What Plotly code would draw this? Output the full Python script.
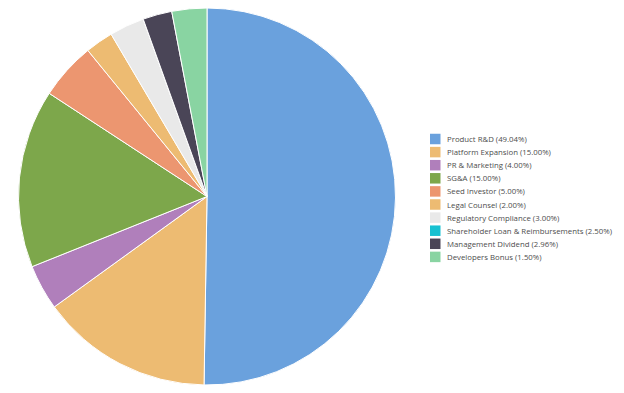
import plotly.graph_objects as go

labels = [
    "Product R&D (49.04%)",
    "Platform Expansion (15.00%)",
    "PR & Marketing (4.00%)",
    "SG&A (15.00%)",
    "Seed Investor (5.00%)",
    "Legal Counsel (2.00%)",
    "Regulatory Compliance (3.00%)",
    "Shareholder Loan & Reimbursements (2.50%)",
    "Management Dividend (2.96%)",
    "Developers Bonus (1.50%)",
]
# slice sizes as drawn in the picture (the shareholder slice is not drawn)
values = [50.3, 14.8, 3.9, 15.3, 4.9, 2.4, 3.0, 0, 2.5, 3.0]
colors = ["#6aa1dd", "#edbb72", "#b07fbb", "#7da74b", "#ec9670", "#edbb72",
          "#e9e9e9", "#17c1d1", "#4a4557", "#89d4a2"]

OFF = 8  # page body margin
W, H = 624 - 2 * OFF, 393 - 2 * OFF


def px(x):
    return (x - OFF) / W


def py(y):
    return 1 - (y - OFF) / H


cx, cy, r = 207, 198, 190

fig = go.Figure(go.Pie(
    labels=labels, values=values, sort=False, direction="clockwise", rotation=0,
    marker=dict(colors=colors, line=dict(color="#ffffff", width=1)),
    textinfo="none", hoverinfo="label", showlegend=False,
    domain=dict(x=[px(cx - r), px(cx + r)], y=[max(0, py(cy + r)), min(1, py(cy - r))]),
))

# custom legend (layout only)
lx0, ly0, step, sq = 430, 139, 13.1, 10.5
shapes, annotations = [], []
for i, (lab, col) in enumerate(zip(labels, colors)):
    yc = ly0 + i * step
    shapes.append(dict(type="rect", xref="paper", yref="paper",
                       x0=px(lx0), x1=px(lx0 + sq),
                       y0=py(yc + sq / 2), y1=py(yc - sq / 2),
                       fillcolor=col, line=dict(width=0)))
    annotations.append(dict(x=px(444.5), y=py(yc), xref="paper", yref="paper",
                            text=lab, showarrow=False, xanchor="left", yanchor="middle",
                            font=dict(family="Open Sans", size=7.8, color="#4d4d4d")))

fig.update_layout(
    width=W, height=H, margin=dict(l=0, r=0, t=0, b=0),
    paper_bgcolor="white", plot_bgcolor="white",
    shapes=shapes, annotations=annotations,
)
fig.write_html("out.html")
